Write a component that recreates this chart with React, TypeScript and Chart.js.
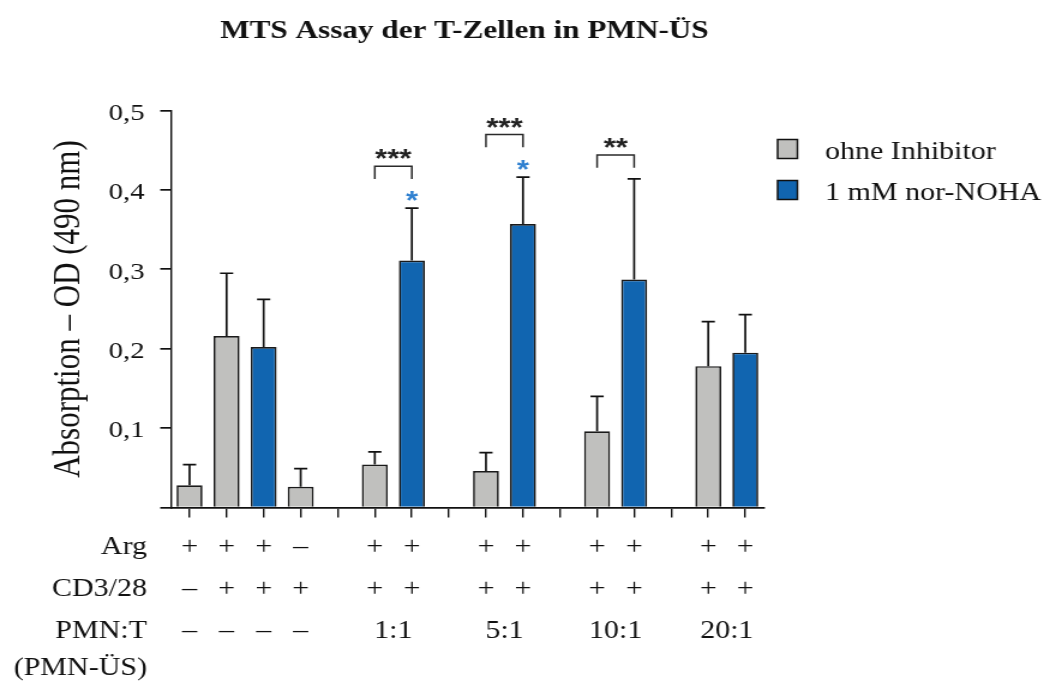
import React, { useEffect, useRef } from 'react';
import { Chart, registerables } from 'chart.js';

Chart.register(...registerables);

const SERIF = "'Liberation Serif', 'Times New Roman', Times, serif";
const SANS = "'Liberation Sans', Arial, Helvetica, sans-serif";
const INK = '#111111';
const STRETCH = 1.2;
const W = 875;
const H = 681;

// ---------- data ----------
const chartTitle = 'MTS Assay der T-Zellen in PMN-ÜS';
const yAxisTitle = 'Absorption – OD (490 nm)';
const seriesLabels = ['ohne Inhibitor', '1 mM nor-NOHA'];
const categories = [
  'K1', 'K2', 'K3', 'K4', 'g1',
  '1:1 a', '1:1 b', 'g2',
  '5:1 a', '5:1 b', 'g3',
  '10:1 a', '10:1 b', 'g4',
  '20:1 a', '20:1 b',
];
const greyValues = [0.028, 0.216, null, 0.026, null, 0.054, null, null, 0.046, null, null, 0.096, null, null, 0.178, null];
const greyErrors = [0.026, 0.079, null, 0.023, null, 0.016, null, null, 0.023, null, null, 0.044, null, null, 0.056, null];
const blueValues = [null, null, 0.202, null, null, null, 0.311, null, null, 0.357, null, null, 0.287, null, null, 0.195];
const blueErrors = [null, null, 0.060, null, null, null, 0.066, null, null, 0.059, null, null, 0.127, null, null, 0.048];
const yTicks = [0, 0.1, 0.2, 0.3, 0.4, 0.5];

const rowLabels = ['Arg', 'CD3/28', 'PMN:T', '(PMN-ÜS)'];
const argRow = ['+', '+', '+', '–', '', '+', '+', '', '+', '+', '', '+', '+', '', '+', '+'];
const cd3Row = ['–', '+', '+', '+', '', '+', '+', '', '+', '+', '', '+', '+', '', '+', '+'];
const pmnRow = ['–', '–', '–', '–', '', '', '', '', '', '', '', '', '', '', '', ''];
const ratioLabels = ['1:1', '5:1', '10:1', '20:1'];
const ratioSlots = [[5, 6], [8, 9], [11, 12], [14, 15]];

const sigFrom = [5, 8, 11];
const sigTo = [6, 9, 12];
const sigLevel = [0.4297, 0.4697, 0.444];
const sigText = ['***', '***', '**'];
const blueStarSlots = [6, 9];

const greyColor = '#c0c0be';
const blueColor = '#1165b0';
const starBlue = '#2f80d0';

function drawCentered(ctx: CanvasRenderingContext2D, text: string, cx: number, cy: number) {
  ctx.textAlign = 'center';
  ctx.textBaseline = 'alphabetic';
  const m = ctx.measureText(text);
  const base = cy + (m.actualBoundingBoxAscent - m.actualBoundingBoxDescent) / 2;
  ctx.fillText(text, cx, base);
}

const annotationPlugin = {
  id: 'annotations',
  afterDatasetsDraw(chart: any) {
    const ctx: CanvasRenderingContext2D = chart.ctx;
    const ys = chart.scales.y;
    const errs = [greyErrors, blueErrors];
    chart.data.datasets.forEach((ds: any, di: number) => {
      const meta = chart.getDatasetMeta(di);
      meta.data.forEach((el: any, i: number) => {
        const v = ds.data[i];
        const e = errs[di][i];
        if (v == null || e == null) return;
        const top = ys.getPixelForValue(v + e);
        ctx.save();
        ctx.strokeStyle = INK;
        ctx.lineWidth = 1.7;
        ctx.beginPath();
        ctx.moveTo(el.x, el.y);
        ctx.lineTo(el.x, top);
        ctx.moveTo(el.x - 5.5, top);
        ctx.lineTo(el.x + 5.5, top);
        ctx.stroke();
        ctx.restore();
      });
    });
  },
  afterDraw(chart: any) {
    const ctx: CanvasRenderingContext2D = chart.ctx;
    const xs = chart.scales.x;
    const ys = chart.scales.y;
    ctx.save();

    // title
    ctx.fillStyle = INK;
    ctx.font = `bold 26px ${SERIF}`;
    ctx.textAlign = 'center';
    ctx.textBaseline = 'alphabetic';
    ctx.fillText(chartTitle, 387, 38);

    // legend
    const rowY = [149, 190];
    chart.data.datasets.forEach((ds: any, i: number) => {
      ctx.fillStyle = ds.backgroundColor;
      ctx.fillRect(648, rowY[i] - 9.5, 16.5, 19);
      ctx.strokeStyle = INK;
      ctx.lineWidth = 1.5;
      ctx.strokeRect(648, rowY[i] - 9.5, 16.5, 19);
      ctx.fillStyle = INK;
      ctx.font = `25px ${SERIF}`;
      ctx.textAlign = 'left';
      ctx.textBaseline = 'alphabetic';
      ctx.fillText(ds.label, 687.5, rowY[i] + 9.5);
    });

    // significance brackets
    ctx.strokeStyle = '#2a2a2a';
    ctx.lineWidth = 1.5;
    sigFrom.forEach((f, k) => {
      const x1 = xs.getPixelForValue(f);
      const x2 = xs.getPixelForValue(sigTo[k]);
      const yb = ys.getPixelForValue(sigLevel[k]);
      ctx.beginPath();
      ctx.moveTo(x1, yb + 12.7);
      ctx.lineTo(x1, yb);
      ctx.lineTo(x2, yb);
      ctx.lineTo(x2, yb + 12.7);
      ctx.stroke();
      ctx.fillStyle = '#222';
      ctx.font = `bold 26px ${SANS}`;
      drawCentered(ctx, sigText[k], (x1 + x2) / 2, yb - 12);
    });
    ctx.fillStyle = starBlue;
    ctx.font = `bold 26px ${SANS}`;
    blueStarSlots.forEach((s) => {
      const v = (blueValues[s] as number) + (blueErrors[s] as number);
      drawCentered(ctx, '*', xs.getPixelForValue(s), ys.getPixelForValue(v) - 12.5);
    });

    // condition table below the axis
    const baselines = [554, 596, 637.5, 674.5];
    ctx.fillStyle = INK;
    ctx.font = `25px ${SERIF}`;
    ctx.textBaseline = 'alphabetic';
    ctx.textAlign = 'right';
    rowLabels.forEach((t, r) => ctx.fillText(t, 122.5, baselines[r]));
    ctx.textAlign = 'center';
    [argRow, cd3Row, pmnRow].forEach((row, r) => {
      row.forEach((t, i) => {
        if (t) ctx.fillText(t, xs.getPixelForValue(i), baselines[r]);
      });
    });
    ratioLabels.forEach((t, k) => {
      const [a, b] = ratioSlots[k];
      ctx.fillText(t, (xs.getPixelForValue(a) + xs.getPixelForValue(b)) / 2, baselines[2]);
    });
    ctx.restore();
  },
};

export default function App() {
  const ref = useRef<HTMLCanvasElement | null>(null);
  useEffect(() => {
    if (!ref.current) return;
    const chart = new Chart(ref.current, {
      type: 'bar',
      data: {
        labels: categories,
        datasets: [
          {
            label: seriesLabels[0],
            data: greyValues,
            backgroundColor: greyColor,
            borderColor: '#1a1a1a',
            borderWidth: 1.7,
            grouped: false,
            barPercentage: 0.7,
            categoryPercentage: 1,
          },
          {
            label: seriesLabels[1],
            data: blueValues,
            backgroundColor: blueColor,
            borderColor: '#1a1a1a',
            borderWidth: 1.7,
            grouped: false,
            barPercentage: 0.7,
            categoryPercentage: 1,
          },
        ] as any,
      },
      options: {
        animation: false,
        responsive: false,
        events: [],
        layout: { padding: { left: 0, right: W - 636.5, top: 110.5, bottom: 0 } },
        plugins: {
          legend: { display: false },
          tooltip: { enabled: false },
          title: { display: false },
        },
        scales: {
          x: {
            type: 'category',
            offset: true,
            grid: {
              display: true,
              drawOnChartArea: false,
              drawTicks: true,
              tickLength: 10,
              offset: false,
              color: INK,
              lineWidth: 1.4,
            },
            border: { display: true, color: INK, width: 1.7 },
            ticks: { display: false },
            afterFit: (s: any) => {
              s.height = H - 507.5;
            },
          },
          y: {
            min: 0,
            max: 0.5,
            afterBuildTicks: (s: any) => {
              s.ticks = yTicks.map((v) => ({ value: v }));
            },
            ticks: {
              callback: (v: any) => (Number(v) === 0 ? '' : (Math.round(Number(v) * 10) / 10).toFixed(1).replace('.', ',')),
              font: { family: SERIF, size: 24 },
              color: INK,
              padding: 13,
              labelOffset: 3,
            },
            grid: {
              drawOnChartArea: false,
              drawTicks: true,
              tickLength: 9,
              color: INK,
              lineWidth: 1.7,
            },
            border: { display: true, color: INK, width: 1.4 },
            title: {
              display: true,
              text: yAxisTitle,
              font: { family: SERIF, size: 31 },
              color: INK,
              padding: { top: 39, bottom: 0 },
            },
            afterFit: (s: any) => {
              s.width = 142.5;
            },
          },
        },
      } as any,
      plugins: [annotationPlugin],
    });
    return () => chart.destroy();
  }, []);

  return (
    <div
      style={{
        position: 'absolute',
        left: 0,
        top: 0,
        width: W,
        height: H,
        transform: `scaleX(${STRETCH})`,
        transformOrigin: '0 0',
      }}
    >
      <canvas ref={ref} width={W} height={H} />
    </div>
  );
}
